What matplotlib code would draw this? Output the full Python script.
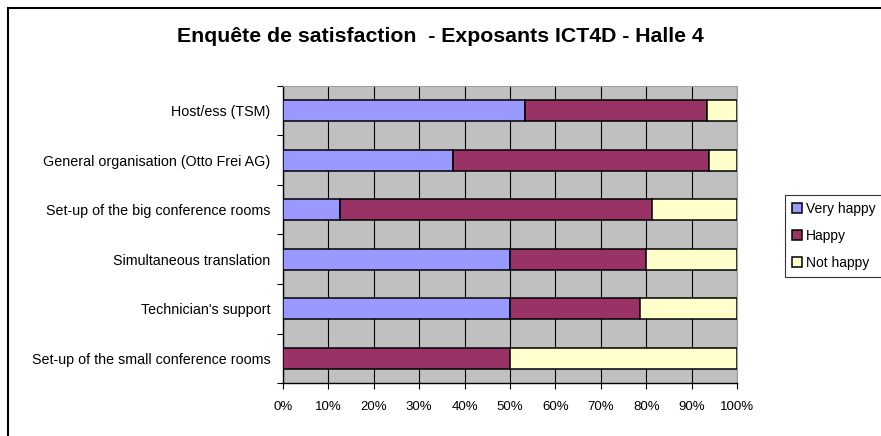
import matplotlib.pyplot as plt
import matplotlib.patches as mpatches
import numpy as np

plt.rcParams['font.family'] = ['Liberation Sans', 'DejaVu Sans']

# données de l'enquête (en %)
categories = [
    "Host/ess (TSM)",
    "General organisation (Otto Frei AG)",
    "Set-up of the big conference rooms",
    "Simultaneous translation",
    "Technician's support",
    "Set-up of the small conference rooms",
]
very_happy = [53.3, 37.5, 12.5, 50.0, 50.0, 0.0]
happy = [40.0, 56.25, 68.75, 30.0, 28.6, 50.0]
not_happy = [6.7, 6.25, 18.75, 20.0, 21.4, 50.0]
series_names = ["Very happy", "Happy", "Not happy"]
colors = ["#9999FF", "#993366", "#FFFFCC"]
x_ticks = [0, 10, 20, 30, 40, 50, 60, 70, 80, 90, 100]

fig = plt.figure(figsize=(8.81, 4.36), dpi=100)
ax = fig.add_axes([283 / 881, 1 - 383 / 436, (737 - 283) / 881, (383 - 86) / 436])
ax.set_facecolor("#C0C0C0")

y = np.arange(len(categories))
left = np.zeros(len(categories))
handles = []
for vals, name, col in zip([very_happy, happy, not_happy], series_names, colors):
    vals = np.array(vals)
    ax.barh(y, vals, left=left, height=0.43, color=col, edgecolor="black",
            linewidth=1.1, zorder=3)
    left = left + vals
    handles.append(mpatches.Patch(facecolor=col, edgecolor="black", linewidth=1.1, label=name))

ax.set_xlim(0, 100)
ax.set_ylim(len(categories) - 0.5, -0.5)
ax.set_xticks(x_ticks)
ax.set_xticklabels([f"{t}%" for t in x_ticks], fontsize=9.5)
ax.xaxis.grid(True, color="black", linewidth=0.8, zorder=1)
ax.set_axisbelow(True)

# ticks aux limites des catégories, étiquettes au centre
ax.set_yticks(np.arange(-0.5, len(categories) + 0.5, 1))
ax.set_yticklabels([])
ax.set_yticks(y, minor=True)
ax.set_yticklabels(categories, minor=True, fontsize=10.3)
ax.tick_params(axis="y", which="minor", length=0, pad=9)
ax.tick_params(axis="y", which="major", length=4, direction="out", width=0.8)
ax.tick_params(axis="x", length=4, direction="out", width=0.8, pad=9)

for s in ["top", "right"]:
    ax.spines[s].set_color("#A0A0A0")
    ax.spines[s].set_linewidth(0.8)
for s in ["left", "bottom"]:
    ax.spines[s].set_color("black")
    ax.spines[s].set_linewidth(1.0)

fig.text(440 / 881, 1 - 37 / 436, "Enquête de satisfaction  - Exposants ICT4D - Halle 4",
         ha="center", va="center", fontsize=15.3, fontweight="bold")

leg = fig.legend(handles=handles, loc="upper left",
                 bbox_to_anchor=(785 / 881, 1 - 195 / 436), fontsize=10,
                 frameon=True, fancybox=False, handlelength=0.7, handleheight=0.7,
                 handletextpad=0.3, labelspacing=0.92, borderpad=0.52,
                 borderaxespad=0)
leg.get_frame().set_edgecolor("black")
leg.get_frame().set_linewidth(0.8)

# cadre du graphique
fig.patches.append(mpatches.Rectangle((8 / 881, -0.1), 1.2, 1 - 8 / 436 + 0.1,
                                      transform=fig.transFigure, fill=False,
                                      edgecolor="black", linewidth=1.5))

fig.savefig("out.png", dpi=100)
